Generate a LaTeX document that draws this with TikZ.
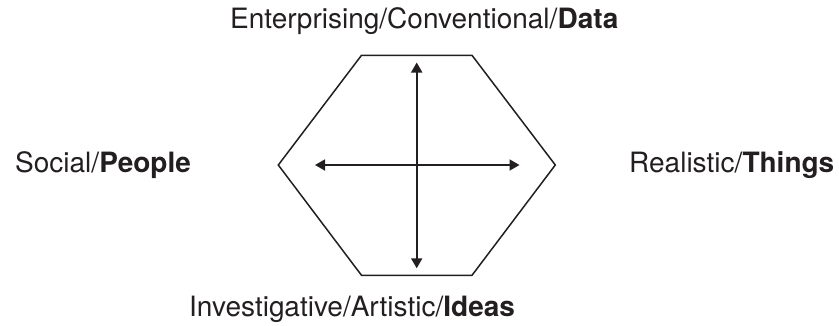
\documentclass[tikz,border=0pt]{standalone}
\usepackage{fontspec}
\setmainfont{TeX Gyre Heros}
\usetikzlibrary{arrows.meta}
\definecolor{ink}{HTML}{231F20}
\begin{document}
\begin{tikzpicture}[x=1pt,y=-1pt,
  hexline/.style={draw=ink,line width=1.5pt,line join=miter},
  axis/.style={draw=ink,line width=1.8pt,{Triangle[length=10pt,width=11pt]}-{Triangle[length=10pt,width=11pt]}},
  lab/.style={inner sep=0pt,text=ink,font=\fontsize{28}{32}\selectfont}]
\useasboundingbox (0,0) rectangle (839,325);
\coordinate (tl) at (361.5,55.3);
\coordinate (tr) at (472,55.3);
\coordinate (r) at (555.3,165);
\coordinate (br) at (472,275.3);
\coordinate (bl) at (361.5,275.3);
\coordinate (l) at (278.3,165);
\draw[hexline] (tl) -- (tr) -- (r) -- (br) -- (bl) -- (l) -- cycle;
\coordinate (nt) at (416.7,62.5);
\coordinate (nb) at (416.7,268.3);
\coordinate (nl) at (315,165);
\coordinate (nr) at (519.5,165);
\draw[axis] (nt) -- (nb);
\draw[axis] (nl) -- (nr);
\node[lab,anchor=base west] (top) at (230,28.5) {Enterprising/Conventional/\textbf{Data}};
\node[lab,anchor=base west] (left) at (15,172) {Social/\textbf{People}};
\node[lab,anchor=base west] (right) at (629,172) {Realistic/\textbf{Things}};
\node[lab,anchor=base west] (bottom) at (189,316) {Investigative/Artistic/\textbf{Ideas}};
\end{tikzpicture}
\end{document}
